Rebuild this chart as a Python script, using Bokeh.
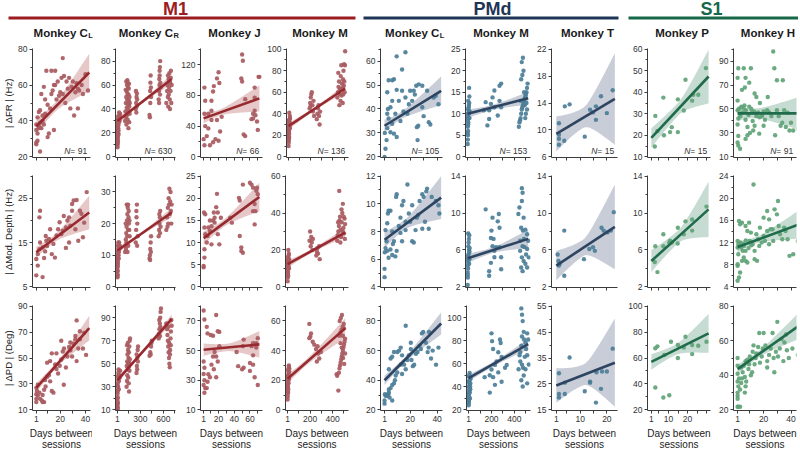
import numpy as np
from bokeh.plotting import figure
from bokeh.layouts import column, row
from bokeh.models import Range1d, FixedTicker, Label
from bokeh.core.properties import value
from bokeh.embed import file_html
from bokeh.resources import INLINE

FONT = "Liberation Sans"

# ---------------- labels ----------------
GROUPS = ["M1", "PMd", "S1"]
TITLES = [("Monkey C", "L"), ("Monkey C", "R"), ("Monkey J", ""), ("Monkey M", ""),
          ("Monkey C", "L"), ("Monkey M", ""), ("Monkey T", ""),
          ("Monkey P", ""), ("Monkey H", "")]
ROW_LABELS = ["| \u0394FR | (Hz)", "| \u0394Mod. Depth | (Hz)", "| \u0394PD | (Deg)"]
N_COUNTS = [91, 630, 66, 136, 105, 153, 15, 15, 91]

# labelled and unlabelled x ticks per column
X_MAJOR = [[1, 20, 40], [1, 300, 600], [1, 20, 40, 60], [1, 200, 400], [1, 20, 40], [1, 200, 400],
           [1, 10, 20], [1, 10, 20], [1, 20, 40]]
X_MINOR = [[10, 30], [150, 450, 750], [10, 30, 50, 70], [100, 300, 500], [10, 30], [100, 300, 500],
           [5, 15], [5, 15, 25, 30], [10, 30]]
X_LIMITS = [(-2, 44), (-25, 760), (-3, 76), (-18, 540), (-2, 44), (-18, 540), (-0.8, 24), (-1, 32), (-2, 44)]

Y_LIMITS = [
    [(20, 80), (0, 90), (0, 140), (0, 100), (20, 65), (0, 25), (6, 22), (10, 60), (10, 100)],
    [(5, 30), (0, 35), (0, 25), (0, 60), (4, 12), (2, 14), (2, 14), (2, 14), (4, 24)],
    [(10, 90), (10, 100), (10, 80), (0, 70), (20, 90), (20, 110), (15, 55), (20, 100), (20, 80)],
]
Y_TICKS = [
    [[20, 40, 60, 80], [0, 20, 40, 60, 80], [0, 40, 80, 120], [0, 20, 40, 60, 80, 100], [20, 30, 40, 50, 60],
     [0, 5, 10, 15, 20, 25], [6, 10, 14, 18, 22], [10, 20, 30, 40, 50, 60], [10, 30, 50, 70, 90]],
    [[5, 15, 25], [0, 10, 20, 30], [0, 5, 10, 15, 20, 25], [0, 20, 40, 60], [4, 6, 8, 10, 12],
     [2, 6, 10, 14], [2, 6, 10, 14], [2, 6, 10, 14], [4, 8, 12, 16, 20, 24]],
    [[10, 30, 50, 70, 90], [10, 30, 50, 70, 90], [10, 30, 50, 70], [0, 20, 40, 60], [20, 40, 60, 80],
     [20, 40, 60, 80, 100], [15, 25, 35, 45, 55], [20, 40, 60, 80, 100], [20, 40, 60, 80]],
]

# ---------------- data: row 1, |dFR| ----------------
M1_CL_FR_DAYS = [1, 1, 1, 1, 2, 2, 2, 3, 3, 3, 4, 4, 4, 5, 5, 6, 6, 7, 7, 8, 8, 9, 10, 10, 11, 12, 13, 13, 14, 15,
                 15, 16, 16, 17, 18, 19, 20, 21, 22, 22, 23, 24, 25, 26, 27, 28, 29, 30, 31, 32, 33, 34, 34, 35, 37,
                 38, 40, 42]
M1_CL_FR_VALS = [28, 27, 38, 35, 33, 42, 29, 45, 37, 36, 23, 46, 39, 36, 55, 43, 40, 59, 38, 44, 52, 68, 49, 31, 33,
                 47, 55, 68, 57, 60, 35, 60, 68, 52, 62, 54, 56, 64, 55, 75, 65, 50, 62, 58, 64, 47, 59, 62, 43, 56,
                 61, 58, 47, 57, 60, 55, 66, 57]
M1_CL_FR_FIT = [1, 43, 37, 67]
M1_CL_FR_BAND = [4, 2.5, 10.5, 15]

M1_CR_FR_DAYS = [1, 2, 3, 1, 4, 2, 6, 3, 8, 5, 10, 2, 12, 6, 15, 4, 18, 8, 20, 25, 10, 30, 35, 22, 14, 28, 16, 1, 5,
                 3, 1, 2, 4, 6,
                 100, 105, 110, 115, 120, 125, 130, 135, 140, 145, 150, 155, 160, 112, 118, 122, 128, 132, 138, 142,
                 148, 152, 158, 108, 126, 134, 144, 116, 154, 162,
                 240, 245, 250, 255, 248, 258, 242, 252,
                 420, 425, 430, 428, 432, 435, 440, 438,
                 540, 545, 550, 553, 556, 560, 548, 558, 565, 552, 562, 545,
                 640, 650, 655, 660, 665, 670, 675, 680, 685, 690, 695, 700, 705, 710, 672, 688, 698, 662]
M1_CR_FR_VALS = [8, 10, 12, 14, 15, 17, 18, 20, 21, 23, 24, 25, 26, 27, 28, 29, 30, 31, 32, 33, 34, 35, 36, 37, 22,
                 30, 19, 11, 13,
                 16, 19, 22, 25, 31,
                 30, 38, 45, 50, 55, 60, 64, 62, 58, 52, 47, 42, 36, 33, 27, 41, 48, 53, 44, 39, 57, 61, 50, 56, 35,
                 31, 24, 63, 29, 45,
                 40, 45, 50, 53, 37, 48, 55, 42,
                 35, 33, 45, 55, 62, 68, 50, 58,
                 48, 55, 60, 68, 75, 80, 65, 52, 58, 72, 62, 45,
                 45, 55, 60, 50, 42, 65, 58, 70, 48, 62, 55, 72, 45, 60, 52, 40, 66, 68]
M1_CR_FR_FIT = [1, 710, 30, 65]
M1_CR_FR_BAND = [3, 1.5, 4, 300]

M1_J_FR_DAYS = [2, 3, 2, 3, 1, 2, 5, 7, 11, 11, 13, 14, 18, 20, 16, 20, 22, 18, 7, 11, 24, 9, 13, 21, 50, 51, 49, 50,
                54, 52, 54, 66, 67, 64, 62, 69, 70, 66, 71, 72, 66, 64]
M1_J_FR_VALS = [90, 73, 56, 40, 23, 15, 27, 37, 60, 73, 85, 92, 102, 110, 23, 21, 33, 48, 56, 48, 52, 15, 19, 96,
                133, 125, 102, 98, 75, 29, 27, 90, 54, 50, 49, 46, 35, 77, 104, 104, 60, 56]
M1_J_FR_FIT = [1, 72, 50, 76]
M1_J_FR_BAND = [6.5, 4, 17, 20]

M1_M_FR_DAYS = [1, 2, 3, 1, 4, 2, 5, 6, 3, 8, 4, 10, 12, 7, 1, 2, 5, 3, 9, 11, 14, 6, 1, 13, 2, 4,
                190, 195, 200, 205, 210, 215, 220, 225, 230, 198,
                255, 260, 265, 270, 275, 280, 285,
                440, 445, 450, 455, 460, 465, 470, 475, 480, 485, 490, 495, 500, 505, 510, 458, 468, 478, 488, 498,
                448, 508, 462, 492, 502]
M1_M_FR_VALS = [10, 13, 16, 19, 21, 23, 25, 27, 29, 31, 33, 35, 38, 41, 24, 28, 30, 22, 26, 32, 36, 18, 15, 27, 34, 26,
                45, 50, 55, 58, 60, 48, 42, 52, 38, 47,
                35, 40, 45, 48, 38, 30, 42,
                55, 60, 65, 70, 58, 62, 75, 85, 68, 64, 72, 80, 86, 60, 98, 48, 52, 57, 50, 66, 78, 85, 63, 58, 70]
M1_M_FR_FIT = [1, 510, 28.5, 63.5]
M1_M_FR_BAND = [3, 1.5, 4, 250]

PMD_CL_FR_DAYS = [1, 1.7, 2.5, 1.2, 3, 4, 3.5, 3, 4, 6.7, 8, 10, 16.5, 14, 11.6, 14, 16.5, 9, 6.7, 8, 10, 5.4, 12.8,
                  18, 19, 21.5, 22.7, 24.5, 26.4, 25, 26, 29, 30, 29, 32.6, 33.8, 35, 37.5, 39, 41, 25.5, 15, 20,
                  23.5, 6.7, 5.4, 3, 10]
PMD_CL_FR_VALS = [20, 23.4, 27, 30, 32, 36, 40, 47, 52, 52, 52.4, 62, 63.7, 56.5, 43.4, 47.6, 44.8, 38, 33.8, 29.7,
                  28.3, 30.3, 35, 38, 42, 43.4, 47.6, 49.7, 50.3, 32.4, 33, 40.7, 37, 49.7, 47.6, 34.5, 33.5, 44.8,
                  45.5, 42, 27, 39, 47.6, 46, 43.4, 40.7, 38, 48]
PMD_CL_FR_FIT = [1, 43, 33, 47.6]
PMD_CL_FR_BAND = [2.5, 1.5, 6, 12]

PMD_M_FR_DAYS = [1, 2, 3, 1, 4, 2, 5, 6, 3, 8, 4, 10, 12, 7, 9, 11, 14, 5, 15, 13, 1, 2, 6, 16, 18,
                 185, 200, 214, 230, 274, 288, 259, 170, 185, 230, 274, 288, 140, 155,
                 440, 445, 450, 455, 460, 465, 470, 475, 480, 485, 490, 495, 500, 505, 510, 515, 460, 470, 480, 465,
                 475, 490, 500, 510, 455, 485, 495, 505]
PMD_M_FR_VALS = [3, 4, 5, 5.5, 6, 7, 7.5, 8, 8.5, 9, 9.5, 10, 10.5, 11, 11.5, 12, 12.5, 13, 14, 16, 10, 9, 11, 9, 10.5,
                 10.8, 12.3, 13.8, 15.4, 16.5, 17, 9.6, 7.3, 8.8, 11.5, 13, 11.5, 10.8, 12.7,
                 7, 8, 8.5, 9, 10, 11, 11.5, 12, 12.5, 13, 13.5, 14, 14.5, 15, 16, 17, 18, 19, 20, 22, 23, 12, 10,
                 11, 13, 15, 9, 12.5]
PMD_M_FR_FIT = [1, 520, 10, 13.6]
PMD_M_FR_BAND = [1, 0.6, 1.5, 200]

PMD_T_FR_DAYS = [2, 2, 2, 2, 4, 4.2, 6, 11.7, 13.7, 14.8, 15.9, 15.9, 17.8, 20, 22.2]
PMD_T_FR_VALS = [11.0, 9.3, 8.7, 7.8, 8.4, 13.5, 13.8, 9.0, 13.0, 12.6, 13.5, 11.5, 15.0, 12.5, 15.9]
PMD_T_FR_FIT = [1, 23, 9.4, 14.6]
PMD_T_FR_BAND = [2.6, 1.5, 6.8, 11]

S1_P_FR_DAYS = [3.1, 2.8, 4.2, 7.3, 7.6, 10.8, 11.7, 14.9, 14.9, 18.9, 18, 22.4, 23, 25.6, 29.6]
S1_P_FR_VALS = [29, 14.8, 22, 37.5, 20, 21.5, 23.8, 36.7, 21.5, 45.8, 31.5, 36.1, 38.8, 38.8, 51.2]
S1_P_FR_FIT = [1, 31, 18.8, 47.3]
S1_P_FR_BAND = [4.5, 3, 12.5, 15]

S1_H_FR_DAYS = [1, 1.5, 2.8, 1.5, 1, 1.5, 1, 1, 1, 1.5, 5.5, 6.8, 6.3, 4.2, 3.7, 4.7, 6.8, 8.2, 8.2, 6.8,
                10, 10.7, 9.5, 9.5, 11.6, 12, 13.4, 14.7, 16, 14.7, 13.4, 17.3, 18.6, 20, 21, 20, 23, 22.6, 24, 25.7,
                27, 27.8, 28.4, 29.7, 29.7, 31, 32.4, 34, 33.6, 35, 36.2, 37.5, 38.9, 40, 41.6, 45.6, 16.8, 12.4,
                2, 3, 5, 7, 9, 11, 13, 15, 17, 19, 3, 6]
S1_H_FR_VALS = [22, 19.5, 16.8, 27.5, 37, 42, 49, 57, 76, 84, 84, 76, 68, 66, 52, 47, 41, 35, 28, 25,
                30, 84, 72, 52, 47, 40, 36, 44, 47, 60, 63, 55, 44, 48, 41, 36, 60, 49, 47, 44,
                98, 84, 28, 74, 49, 44, 36, 74, 38.5, 49, 35, 47, 32, 38.5, 32, 33, 29.4, 32,
                50, 46, 51, 49, 45, 50, 48, 46, 43, 45, 44, 53]
S1_H_FR_FIT = [1, 45, 46.3, 46.3]
S1_H_FR_BAND = [6.5, 4, 13.5, 12]

# ---------------- data: row 2, |dMod. Depth| ----------------
M1_CL_MD_DAYS = [1, 6, 2.2, 1, 2.2, 3.5, 4, 3.5, 4, 6, 7.2, 8, 9, 8.5, 11, 12, 13.3, 15.8, 14.6, 17, 18.3, 19.5, 20.8,
                 22, 22.8, 24.5, 25.7, 27, 28, 29.4, 30.6, 29.4, 32, 33, 34.3, 35.6, 36.8, 38, 41, 39, 9.6, 24.5, 27]
M1_CL_MD_VALS = [7.6, 7.2, 9.8, 11.3, 12.4, 13.5, 15, 20.7, 22.2, 13.9, 11.5, 13, 15.4, 16.5, 15.8, 18, 12.4, 11.6,
                 14.7, 16.6, 18, 19.6, 16.9, 17.7, 21, 18.4, 20, 20.7, 18.8, 22.2, 24.5, 23.7, 18, 24.6, 15.4, 22.2,
                 21.5, 16.2, 26.4, 19.5, 14.2, 13.8, 15.0]
M1_CL_MD_FIT = [1, 43, 12.8, 21.8]
M1_CL_MD_BAND = [1.2, 0.8, 3.8, 15]

M1_CR_MD_DAYS = [1, 2, 3, 1, 4, 2, 5, 8, 3, 10, 6, 12, 15, 20, 25, 30, 18, 7, 1, 35, 22, 2, 4, 1, 3,
                 100, 105, 110, 115, 120, 125, 130, 135, 140, 145, 150, 155, 160, 112, 118, 128, 138, 148, 158, 108,
                 122, 132, 142,
                 240, 245, 250, 255, 260, 265, 248, 258,
                 420, 425, 430, 435, 440, 428, 438,
                 540, 545, 550, 555, 560, 565, 548, 558,
                 640, 650, 660, 670, 680, 690, 700, 705, 665, 685, 695, 675, 655, 710]
M1_CR_MD_VALS = [3, 4, 5, 6, 7, 8, 9, 10, 11, 12, 13, 14, 10, 11, 12, 13, 9, 7.5, 5, 12.5, 14, 6.5, 8.5, 9.5, 3.5,
                 11, 13, 15, 17, 19, 21, 23, 25, 26, 22, 20, 18, 16, 12, 14, 16, 18, 24, 21, 20, 26, 11, 13,
                 14, 18, 22, 26, 20, 16, 24, 13,
                 9, 10, 12, 14, 16, 8.5, 11,
                 16, 18, 20, 22, 24, 19, 23, 17,
                 18, 22, 25, 28, 31, 27, 24, 20, 20, 23, 30, 26, 19, 26]
M1_CR_MD_FIT = [1, 710, 11.5, 23.5]
M1_CR_MD_BAND = [1, 0.5, 1.5, 300]

M1_J_MD_DAYS = [1, 1, 2, 2, 3, 2, 3, 1.5, 5, 6, 9, 11, 13, 15, 14, 17, 18, 15, 19, 21, 11, 7, 9, 19, 23, 35, 37, 47,
                49, 51, 49, 47, 46, 51, 60, 62, 64, 66, 68, 70, 66, 67, 69, 64]
M1_J_MD_VALS = [4.4, 4.7, 6.6, 8.5, 11.9, 13.4, 16.4, 16.8, 10, 11.5, 12.6, 13.7, 15, 15.6, 16.8, 18, 21, 14.5, 11.9,
                9.6, 9.6, 13.4, 15, 16.8, 15.6, 15.6, 14.5, 11.5, 8.9, 7.7, 8.1, 19.5, 20.1, 23.1, 23.5, 23.1, 22.4,
                18.7, 21.7, 20.9, 14.1, 17.1, 22.4, 17.1]
M1_J_MD_FIT = [1, 72, 11, 20.3]
M1_J_MD_BAND = [1.5, 0.8, 3.2, 25]

M1_M_MD_DAYS = [1, 2, 3, 1, 4, 2, 5, 6, 3, 8, 4, 10, 12, 7, 1, 2, 5, 9, 11, 14, 6, 13,
                195, 200, 205, 210, 215, 220, 225,
                255, 260, 265, 270, 280, 285,
                440, 445, 450, 455, 460, 465, 470, 475, 480, 485, 490, 495, 500, 505, 510, 458, 468, 478, 488, 498,
                448, 508]
M1_M_MD_VALS = [3, 5, 7, 9, 10, 11, 12, 13, 14, 15, 16, 17, 18, 20, 12, 14, 8, 11, 13, 15, 6, 10,
                25, 30, 22, 27, 24, 20, 26,
                17, 19, 21, 18, 22, 15,
                25, 28, 30, 33, 36, 38, 31, 27, 35, 40, 45, 32, 29, 37, 34, 52, 24, 42, 30, 38, 35, 26]
M1_M_MD_FIT = [1, 510, 12.3, 29.4]
M1_M_MD_BAND = [2, 1, 2.5, 200]

PMD_CL_MD_DAYS = [1, 1, 1.2, 1.7, 2.5, 1.7, 3, 3.5, 4, 5.4, 3, 4, 5.4, 6.7, 7.2, 8, 9, 10, 10, 9.6, 11.6, 12.8, 14, 15,
                  16.6, 14, 12.8, 18, 19, 20, 21.5, 21.5, 22.7, 24, 25, 26, 27, 29, 30, 29, 31, 32, 32.6, 33.8, 36,
                  39, 41.7, 41, 6.7, 16.6]
PMD_CL_MD_VALS = [4.7, 5.3, 6.5, 6.8, 7.3, 8.1, 8.6, 9.3, 9.5, 9.5, 6.6, 6.1, 6.7, 6.3, 7.1, 7.3, 6.2, 6.6, 10.7, 10.5,
                  8.4, 9, 9.9, 10.2, 8.1, 7.3, 7.9, 11.4, 9.3, 8.7, 9.9, 7.3, 7.2, 8.1, 9, 9.2, 10.2, 10.7, 10.5, 8.2,
                  8.7, 10.9, 11.1, 8.2, 10.5, 10.2, 9.3, 9.9, 8, 8.7]
PMD_CL_MD_FIT = [1, 43, 7.4, 10.45]
PMD_CL_MD_BAND = [0.6, 0.35, 1.55, 15]

PMD_M_MD_DAYS = [1, 2, 3, 1, 4, 2, 5, 6, 3, 8, 4, 10, 12, 7, 9, 11, 14, 5, 15, 13, 16, 18,
                 155, 185, 185, 200, 200, 205, 214, 214, 230, 230, 259, 268, 274, 274, 288, 288, 244, 223,
                 466, 472, 466, 481, 460, 475, 496, 511, 451, 472, 490, 511, 451, 466, 481, 496, 460, 472, 511, 525,
                 520, 436, 445, 484, 502]
PMD_M_MD_VALS = [2.2, 3, 3.3, 3.6, 4, 4.3, 4.6, 4.8, 5, 5.2, 5.4, 5.6, 6, 6.4, 6.8, 7.2, 7.6, 7.8, 5, 4.5, 5.8, 6.2,
                 10.4, 3.7, 3.2, 4.6, 7.3, 8.1, 9.5, 6.4, 5.9, 5.2, 9.1, 9.9, 8.4, 6.3, 5.2, 3.9, 6.3, 7.2,
                 12.7, 12.2, 11.3, 9.5, 8.4, 8.1, 8.2, 7.7, 7, 6.4, 6.3, 6.1, 5.9, 5.2, 4.8, 4.5, 4.1, 3.7, 4.1, 5.2,
                 7, 9.9, 10.6, 7.2, 5.5]
PMD_M_MD_FIT = [1, 520, 5.1, 7.2]
PMD_M_MD_BAND = [0.5, 0.3, 1.0, 200]

PMD_T_MD_DAYS = [1.5, 1.8, 2, 2.3, 4, 4, 11.4, 13.4, 14.8, 15.5, 18, 18.8, 20.2, 21.5, 22.6]
PMD_T_MD_VALS = [5.5, 4.8, 4.3, 4.5, 8.1, 3.2, 5.0, 6.1, 6.3, 5.9, 8.4, 8.1, 7.9, 8.1, 10.1]
PMD_T_MD_FIT = [1, 23, 4.3, 8.5]
PMD_T_MD_BAND = [1.6, 0.9, 4.6, 11]

S1_P_MD_DAYS = [3.1, 2.8, 4.2, 7.3, 7.3, 10.4, 10.8, 11.7, 14.9, 14.8, 18, 18.9, 22.4, 22.4, 29.9]
S1_P_MD_VALS = [6.4, 4.7, 3.6, 7.7, 6.4, 6.8, 7.0, 6.8, 8.4, 6.7, 7.7, 9.1, 8.1, 9.3, 10.7]
S1_P_MD_FIT = [1, 31, 4.8, 10.4]
S1_P_MD_BAND = [1.2, 0.7, 3.0, 15]

S1_H_MD_DAYS = [1, 2, 2.8, 1, 1, 1.5, 1, 1.5, 1, 2, 2.8, 4.2, 3.7, 4.7, 5.5, 4.2, 5.5, 6.8, 8.1, 6.8,
                8.1, 6.8, 9.4, 10.7, 9.9, 12.6, 12, 13.4, 14.7, 16, 16.8, 17.3, 18.6, 20, 20, 21, 22.6, 24, 22.6, 25,
                27, 28, 29.7, 30.5, 31, 32, 33.6, 35, 36, 37.5, 38.9, 41.6, 45, 15.2, 13.4, 24, 26.5,
                3, 5, 7, 9, 11]
S1_H_MD_VALS = [5.1, 5.7, 6.6, 7.8, 8.1, 9.9, 11.1, 11.7, 12.3, 15.9, 15.3, 15.6, 11.1, 10.5, 11.4, 8.7, 9.3, 8.7,
                8.4, 10.5, 14.1, 15, 15.6, 13.8, 12.3, 22.5, 11.7, 10.5, 13.5, 12.6, 11.4, 14.7, 12, 16.5, 13.2, 12.3,
                17.7, 16.2, 14.1, 14.4, 12.3, 18, 17.1, 19.5, 15, 13.5, 12.6, 14.7, 14.1, 12.6, 9.6, 9.9, 12.3, 8.7,
                9, 11.7, 14.4, 12, 11.8, 12.4, 11, 11.5]
S1_H_MD_FIT = [1, 45, 11.2, 15.2]
S1_H_MD_BAND = [1.0, 0.6, 2.5, 14]

# ---------------- data: row 3, |dPD| ----------------
M1_CL_PD_DAYS = [1, 1, 1, 1.5, 1, 2.2, 2.2, 3.5, 4, 5.4, 6, 7.2, 6, 7.2, 8.4, 8, 9.6, 11, 12, 13.3, 14.6, 12, 13.3, 16,
                 17, 18.3, 19.6, 20.8, 22, 20.8, 22.8, 24.5, 25.7, 27, 28, 29.4, 30.6, 32, 32, 33, 34.3, 35.6, 35.6,
                 38, 39, 40.5, 33, 28, 23, 17, 9.6]
M1_CL_PD_VALS = [16, 18.5, 22, 24.5, 27, 29.4, 21, 23.3, 18.5, 17.3, 16, 16, 21.5, 25.5, 28, 33, 35.5, 36.7, 32, 24.5,
                 23.3, 47.6, 53.6, 45, 41.5, 38, 44, 48.8, 55, 63.3, 29.4, 42.7, 51.2, 58.5, 56, 51.2, 61, 64.5, 67,
                 47.6, 57.3, 64.5, 70.6, 57.3, 69.4, 52.4, 79, 62, 57.3, 53.6, 46.4]
M1_CL_PD_FIT = [1, 43, 27, 73]
M1_CL_PD_BAND = [3.6, 2, 9.5, 17]

M1_CR_PD_DAYS = [1, 2, 3, 1, 4, 2, 5, 8, 3, 10, 6, 12, 15, 20, 25, 30, 18, 1, 7, 35, 2, 1, 3, 2,
                 120, 125, 130, 135, 140, 145, 150, 155, 160, 165, 122, 128, 132, 138, 142, 148, 152, 158, 162, 126,
                 136, 146, 156,
                 250, 255, 260, 265, 270, 258, 268, 252,
                 420, 430, 440, 450, 435, 445,
                 540, 545, 550, 555, 560, 565, 570, 548, 558, 562,
                 640, 650, 655, 660, 665, 670, 675, 680, 685, 690, 695, 700, 705, 710, 668, 678, 688, 698]
M1_CR_PD_VALS = [10, 12, 15, 18, 21, 24, 27, 30, 33, 36, 39, 42, 45, 35, 40, 38, 28, 13, 16, 44, 11, 20, 26, 31,
                 30, 35, 40, 45, 50, 55, 60, 65, 70, 72, 48, 52, 58, 62, 38, 33, 26, 44, 54, 66, 68, 47, 51,
                 42, 48, 55, 62, 65, 45, 52, 58,
                 57, 60, 65, 70, 58, 68,
                 72, 76, 80, 85, 90, 95, 98, 88, 74, 82,
                 85, 80, 75, 70, 65, 60, 55, 50, 47, 62, 72, 78, 88, 83, 82, 68, 58, 66]
M1_CR_PD_FIT = [1, 710, 35.8, 88.7]
M1_CR_PD_BAND = [3, 1.5, 4, 300]

M1_J_PD_DAYS = [1, 2, 5, 6, 10, 13, 17, 19, 21, 1, 2, 1, 2, 1, 3, 2, 5, 6, 7, 9, 11, 13, 15, 17, 19, 21, 14, 17, 43,
                45, 50, 52, 51, 52, 60, 60, 62, 64, 64, 66, 68, 68, 70, 70, 64]
M1_J_PD_VALS = [77, 71, 66, 61.6, 60.5, 60, 74, 63, 62.6, 42.6, 38.4, 34.2, 30, 26.8, 24.7, 21.6, 24.7, 29, 34, 32,
                40.5, 46, 49, 46, 42.6, 53, 37.4, 32, 49, 39.5, 37.4, 38.4, 53, 57.4, 36.3, 41.6, 53, 55, 40.5, 32,
                55, 52, 26.8, 58.4, 46.8]
M1_J_PD_FIT = [1, 72, 50.6, 54.2]
M1_J_PD_BAND = [4.2, 2.5, 9, 30]

M1_M_PD_DAYS = [1, 2, 3, 1, 4, 2, 5, 6, 3, 8, 4, 10, 12, 7, 1, 2, 5, 9, 11, 14, 6, 13, 16,
                193, 208, 202, 223, 193, 237, 252, 266, 272, 260, 281, 296,
                435, 440, 450, 455, 460, 465, 470, 475, 480, 485, 490, 495, 500, 505, 510, 458, 468, 478, 488, 498,
                462, 472, 482, 492, 502, 470, 490, 500, 480, 510]
M1_M_PD_VALS = [7, 9, 11, 13, 15, 17, 19, 21, 23, 25, 27, 29, 30, 20, 16, 22, 12, 18, 24, 26, 14, 21, 28,
                58, 51.6, 49.5, 46, 48.4, 44, 41, 43, 38, 32.6, 34.7, 39,
                24, 23, 13, 25, 28, 30, 32, 34, 36, 38, 40, 42, 44, 46, 48, 50, 52, 54, 56, 58, 60, 62, 64, 35, 31,
                45, 50, 55, 42, 38]
M1_M_PD_FIT = [1, 510, 21, 55]
M1_M_PD_BAND = [3.2, 2, 6.8, 150]

PMD_CL_PD_DAYS = [1, 1, 1.7, 1.3, 3, 3.7, 4.2, 4.7, 4.2, 5.5, 6.7, 6.7, 8, 8.7, 9.3, 10.5, 4.2, 5.5, 6.7, 8, 10.5,
                  11.8, 13, 16.7, 15.5, 14, 16.7, 18, 19, 20.5, 20.5, 21, 22, 23, 24.3, 25.5, 27, 28, 28.7, 29.7,
                  31.7, 33, 33.7, 35.5, 36.7, 39.2, 41, 34, 13, 14]
PMD_CL_PD_VALS = [24.2, 26.3, 29.5, 30.5, 29.5, 30.5, 31.6, 28.4, 33.7, 34.7, 36.8, 26.3, 37.9, 40, 43.2, 45.3, 47.4,
                  54.7, 55.8, 59, 59, 60, 62, 76.8, 50.5, 44.2, 47.4, 53.7, 56.8, 61, 65.3, 53.7, 49.5, 50.5, 57.9,
                  59, 63.2, 61, 71.6, 72.6, 65.3, 59, 62, 54.7, 60, 50.5, 62, 72.6, 50.5, 56.8]
PMD_CL_PD_FIT = [1, 43, 40, 78.3]
PMD_CL_PD_BAND = [3.2, 1.8, 7.5, 15]

PMD_M_PD_DAYS = [1, 2, 3, 1, 4, 2, 5, 6, 3, 8, 4, 10, 12, 7, 9, 11, 14, 5, 15, 13, 16, 18, 1, 2,
                 185, 200, 200, 205, 214, 230, 244, 259, 274, 280, 288, 288, 230, 185, 214, 259, 318, 333, 140,
                 460, 466, 472, 481, 466, 460, 496, 511, 520, 451, 466, 475, 481, 460, 472, 496, 511, 502, 451, 490,
                 525, 511, 436, 445, 484]
PMD_M_PD_VALS = [24, 26, 28, 30, 32, 34, 36, 38, 40, 42, 44, 46, 48, 50, 52, 35, 40, 45, 38, 30, 43, 47, 27, 49,
                 50, 55, 86.4, 79.6, 72.8, 59, 62, 70, 81, 78, 66, 44.4, 41.7, 35, 48.4, 52.5, 56.6, 59, 48.4,
                 108, 102.6, 97, 87.7, 83.7, 75.6, 78.3, 86.4, 81, 62, 59.3, 56.6, 49.8, 45.7, 40.3, 55.2, 67.4,
                 72.8, 70, 66, 59.3, 43, 55.2, 67.4, 81]
PMD_M_PD_FIT = [1, 520, 47.5, 77]
PMD_M_PD_BAND = [3, 2, 4.5, 200]

PMD_T_PD_DAYS = [2, 2, 2, 4.2, 4.2, 6, 11.7, 13.7, 13.7, 15.9, 16.1, 17.8, 18.2, 20, 22.2]
PMD_T_PD_VALS = [29.1, 21.1, 19.8, 21.1, 25.5, 35.2, 22.2, 25.9, 25.5, 17.8, 29.5, 23.1, 29.8, 29.8, 38.6]
PMD_T_PD_FIT = [1, 23, 24.4, 33.2]
PMD_T_PD_BAND = [6.7, 4, 17, 11]

S1_P_PD_DAYS = [3.1, 4.2, 3.1, 7.3, 10.4, 7.8, 11.3, 14.9, 14.9, 18.9, 18, 22.4, 22.4, 25.6, 29.9]
S1_P_PD_VALS = [67.5, 69, 37.3, 29.6, 31.3, 62.4, 72.5, 70, 60, 76.4, 68, 63, 70, 69.4, 72.5]
S1_P_PD_FIT = [1, 31, 57, 79]
S1_P_PD_BAND = [6, 4, 15, 13]

S1_H_PD_DAYS = [1, 1.5, 2.8, 1, 1, 1, 1.5, 1, 2, 1, 1, 1, 2.8, 3.6, 4.2, 4.7, 3.6, 5.5, 6.3, 6.8,
                7.3, 6.3, 6.8, 8.1, 8.9, 9.4, 9.9, 10.7, 11.6, 12, 12.6, 13.4, 14.2, 14.7, 16, 16.8, 17.3, 18.6,
                19.4, 20, 21.3, 22.6, 24, 25.2, 26.5, 27.3, 27.8, 29, 30, 30.5, 31.8, 33, 34.4, 35.2, 36.3, 37,
                38.4, 41, 45, 22.6]
S1_H_PD_VALS = [21.8, 21.8, 21.8, 26.4, 28.2, 30, 33.6, 36.4, 38.2, 40.9, 45.5, 50, 31.8, 35.5, 38.2, 41.8, 44.5,
                45.5, 30, 33.6, 36.4, 39, 48.2, 49, 43.6, 46.4, 50.9, 40, 41.8, 53.6, 57.3, 46.4, 50, 52.7, 56.4,
                64.5, 47.3, 50.9, 55.5, 64.5, 57.3, 48.2, 51.8, 55.5, 64.5, 50, 41.8, 53.6, 70.9, 50.9, 55.5, 60.9,
                48.2, 59, 63.6, 54.5, 50, 55.5, 51.8, 44.5]
S1_H_PD_FIT = [1, 45, 43.6, 68.2]
S1_H_PD_BAND = [2.7, 1.8, 7.5, 15]

PANELS = [
    [(M1_CL_FR_DAYS, M1_CL_FR_VALS, M1_CL_FR_FIT, M1_CL_FR_BAND),
     (M1_CR_FR_DAYS, M1_CR_FR_VALS, M1_CR_FR_FIT, M1_CR_FR_BAND),
     (M1_J_FR_DAYS, M1_J_FR_VALS, M1_J_FR_FIT, M1_J_FR_BAND),
     (M1_M_FR_DAYS, M1_M_FR_VALS, M1_M_FR_FIT, M1_M_FR_BAND),
     (PMD_CL_FR_DAYS, PMD_CL_FR_VALS, PMD_CL_FR_FIT, PMD_CL_FR_BAND),
     (PMD_M_FR_DAYS, PMD_M_FR_VALS, PMD_M_FR_FIT, PMD_M_FR_BAND),
     (PMD_T_FR_DAYS, PMD_T_FR_VALS, PMD_T_FR_FIT, PMD_T_FR_BAND),
     (S1_P_FR_DAYS, S1_P_FR_VALS, S1_P_FR_FIT, S1_P_FR_BAND),
     (S1_H_FR_DAYS, S1_H_FR_VALS, S1_H_FR_FIT, S1_H_FR_BAND)],
    [(M1_CL_MD_DAYS, M1_CL_MD_VALS, M1_CL_MD_FIT, M1_CL_MD_BAND),
     (M1_CR_MD_DAYS, M1_CR_MD_VALS, M1_CR_MD_FIT, M1_CR_MD_BAND),
     (M1_J_MD_DAYS, M1_J_MD_VALS, M1_J_MD_FIT, M1_J_MD_BAND),
     (M1_M_MD_DAYS, M1_M_MD_VALS, M1_M_MD_FIT, M1_M_MD_BAND),
     (PMD_CL_MD_DAYS, PMD_CL_MD_VALS, PMD_CL_MD_FIT, PMD_CL_MD_BAND),
     (PMD_M_MD_DAYS, PMD_M_MD_VALS, PMD_M_MD_FIT, PMD_M_MD_BAND),
     (PMD_T_MD_DAYS, PMD_T_MD_VALS, PMD_T_MD_FIT, PMD_T_MD_BAND),
     (S1_P_MD_DAYS, S1_P_MD_VALS, S1_P_MD_FIT, S1_P_MD_BAND),
     (S1_H_MD_DAYS, S1_H_MD_VALS, S1_H_MD_FIT, S1_H_MD_BAND)],
    [(M1_CL_PD_DAYS, M1_CL_PD_VALS, M1_CL_PD_FIT, M1_CL_PD_BAND),
     (M1_CR_PD_DAYS, M1_CR_PD_VALS, M1_CR_PD_FIT, M1_CR_PD_BAND),
     (M1_J_PD_DAYS, M1_J_PD_VALS, M1_J_PD_FIT, M1_J_PD_BAND),
     (M1_M_PD_DAYS, M1_M_PD_VALS, M1_M_PD_FIT, M1_M_PD_BAND),
     (PMD_CL_PD_DAYS, PMD_CL_PD_VALS, PMD_CL_PD_FIT, PMD_CL_PD_BAND),
     (PMD_M_PD_DAYS, PMD_M_PD_VALS, PMD_M_PD_FIT, PMD_M_PD_BAND),
     (PMD_T_PD_DAYS, PMD_T_PD_VALS, PMD_T_PD_FIT, PMD_T_PD_BAND),
     (S1_P_PD_DAYS, S1_P_PD_VALS, S1_P_PD_FIT, S1_P_PD_BAND),
     (S1_H_PD_DAYS, S1_H_PD_VALS, S1_H_PD_FIT, S1_H_PD_BAND)],
]

# ---------------- styling / layout ----------------
COL_GROUP = [0, 0, 0, 0, 1, 1, 1, 2, 2]
HEAD_COLOR = ["#9b1c21", "#1f3557", "#17684a"]
PT_COLOR = ["#a85a5f", "#4c7e98", "#5fa377"]
LINE_COLOR = ["#972a2f", "#2e4562", "#1f6b4b"]
BAND_COLOR = ["#e6c8c9", "#c8cdd7", "#c6dcd2"]
AX_COLOR = "#3c3c3c"

TOTAL_W = 798
AXIS_X = [29, 115, 200, 285, 380, 465, 551, 647, 733]
FRAME_END = [90, 175, 262, 348, 442, 530, 617, 710, 796]
STARTS = [0] + [e + 2 for e in FRAME_END[:-1]]
WIDTHS = [(STARTS[i + 1] if i < 8 else TOTAL_W) - STARTS[i] for i in range(9)]
LEFTS = [AXIS_X[i] - STARTS[i] for i in range(9)]
FRAME_W = [FRAME_END[i] - AXIS_X[i] for i in range(9)]
RIGHTS = [WIDTHS[i] - LEFTS[i] - FRAME_W[i] for i in range(9)]

HEAD_H = 42
ROW_TOP = [6, 8, 8]
ROW_FRAME = [109, 112, 107]
ROW_BOTTOM = [10, 10, 41]


def band_curve(fit, band):
    x0, x1, y0, y1 = fit
    hs, hm, he, xc = band
    xs = np.linspace(x0, x1, 80)
    ys = y0 + (y1 - y0) * (xs - x0) / (x1 - x0)
    left = xs < xc
    t = np.where(left, (xc - xs) / (xc - x0), (xs - xc) / (x1 - xc))
    edge = np.where(left, hs, he)
    hw = np.sqrt(hm ** 2 + (edge ** 2 - hm ** 2) * t ** 2)
    return xs, ys - hw, ys + hw


def char_w(s, size):
    w = {" ": 0.278, "=": 0.584, "N": 0.722}
    return sum(w.get(c, 0.556) for c in s) * size


def minor_from(major, lim):
    step = major[1] - major[0]
    m = [a + step / 2 for a in major[:-1]]
    if major[-1] + step / 2 <= lim[1] + 1e-9:
        m.append(major[-1] + step / 2)
    if major[0] - step / 2 >= lim[0] - 1e-9:
        m.insert(0, major[0] - step / 2)
    return m


def style_axis(ax):
    ax.axis_line_color = AX_COLOR
    ax.axis_line_width = 1
    ax.major_tick_line_color = AX_COLOR
    ax.minor_tick_line_color = AX_COLOR
    ax.major_tick_out = 3
    ax.major_tick_in = 0
    ax.minor_tick_out = 2
    ax.minor_tick_in = 0
    ax.major_label_text_font = FONT
    ax.major_label_text_font_size = "8.5px"
    ax.major_label_text_color = "#333333"
    ax.major_label_standoff = 2
    ax.axis_label_text_font = FONT
    ax.axis_label_text_font_style = "normal"
    ax.axis_label_text_color = "#222222"
    ax.axis_label_standoff = 3


def make_panel(r, c):
    days, vals, fit, band = PANELS[r][c]
    g = COL_GROUP[c]
    xr = X_LIMITS[c]
    yr = Y_LIMITS[r][c]
    ypad = (yr[1] - yr[0]) * 0.006
    p = figure(width=WIDTHS[c], height=ROW_TOP[r] + ROW_FRAME[r] + ROW_BOTTOM[r],
               x_range=Range1d(xr[0], xr[1]), y_range=Range1d(yr[0] - ypad, yr[1] + ypad),
               output_backend="svg", toolbar_location=None,
               min_border_left=LEFTS[c], min_border_right=RIGHTS[c],
               min_border_top=ROW_TOP[r], min_border_bottom=ROW_BOTTOM[r])
    p.outline_line_color = None
    p.grid.visible = False
    p.background_fill_color = "white"
    p.border_fill_color = "white"

    bx, blo, bhi = band_curve(fit, band)
    p.varea(x=bx, y1=blo, y2=bhi, fill_color=BAND_COLOR[g], fill_alpha=1.0)
    pairs = list(zip(days, vals))
    p.scatter([a for a, b in pairs], [b for a, b in pairs], size=4.4,
              fill_color=PT_COLOR[g], line_color=None, fill_alpha=0.92)
    p.line([fit[0], fit[1]], [fit[2], fit[3]], line_width=2.6, line_color=LINE_COLOR[g])

    xa = p.xaxis[0]
    ya = p.yaxis[0]
    style_axis(xa)
    style_axis(ya)
    majors = Y_TICKS[r][c]
    ya.ticker = FixedTicker(ticks=majors, minor_ticks=minor_from(majors, yr))
    xa.minor_tick_out = 3
    if r < 2:
        # unlabelled tick marks only
        xa.ticker = FixedTicker(ticks=[], minor_ticks=sorted(X_MAJOR[c] + X_MINOR[c]))
    else:
        xa.ticker = FixedTicker(ticks=X_MAJOR[c], minor_ticks=X_MINOR[c])
        xa.axis_label = "Days between\nsessions"
        xa.axis_label_text_font_size = "10px"
        xa.axis_label_standoff = 3
        xa.axis_label_text_line_height = 1.05
    if c == 0:
        ya.axis_label = ROW_LABELS[r]
        ya.axis_label_text_font_size = "9.5px"
        ya.axis_label_standoff = 1

    if r == 0:
        rest = " = %d" % N_COUNTS[c]
        p.add_layout(Label(x=xr[1], y=yr[0], x_offset=-1, y_offset=1, text=rest,
                           text_align="right", text_baseline="bottom", text_font=FONT,
                           text_font_size="8.5px", text_color="#333333"))
        p.add_layout(Label(x=xr[1], y=yr[0], x_offset=-1 - char_w(rest, 8.5), y_offset=1, text="N",
                           text_align="right", text_baseline="bottom", text_font=FONT,
                           text_font_size="8.5px", text_font_style="italic", text_color="#333333"))
    return p


# ---------------- header ----------------
hp = figure(width=TOTAL_W, height=HEAD_H, x_range=Range1d(0, TOTAL_W), y_range=Range1d(HEAD_H, 0),
            x_axis_type=None, y_axis_type=None, output_backend="svg", toolbar_location=None,
            min_border=0)
hp.outline_line_color = None
hp.background_fill_color = "white"
hp.border_fill_color = "white"

SPANS = [(8, 355), (363, 618), (628, TOTAL_W)]
GROUP_X = [175, 492, 711]
hp.segment(x0=[s[0] for s in SPANS], x1=[s[1] for s in SPANS], y0=[17.5] * 3, y1=[17.5] * 3,
           line_width=3, line_color=HEAD_COLOR)
hp.text(x=GROUP_X, y=[8.5] * 3, text=GROUPS, text_color=HEAD_COLOR,
        text_font=value(FONT), text_font_size="18px", text_font_style="bold",
        text_align="center", text_baseline="middle")

BOLD_W = {"M": .833, "o": .611, "n": .611, "k": .556, "e": .556, "y": .556, " ": .278, "C": .722,
          "J": .556, "T": .611, "P": .667, "H": .722, "L": .611, "R": .722}
TSIZE = 11.5
SSIZE = 7.5
for i, (main, sub) in enumerate(TITLES):
    wm = sum(BOLD_W.get(ch, .6) for ch in main) * TSIZE
    ws = sum(BOLD_W.get(ch, .6) for ch in sub) * SSIZE
    center = (AXIS_X[i] + FRAME_END[i]) / 2 + 3
    x0 = center - (wm + ws) / 2
    hp.text(x=[x0], y=[32], text=[main], text_color="#1a1a1a", text_font=value(FONT),
            text_font_size="%gpx" % TSIZE, text_font_style="bold", text_align="left", text_baseline="middle")
    if sub:
        hp.text(x=[x0 + wm + 0.5], y=[35], text=[sub], text_color="#1a1a1a", text_font=value(FONT),
                text_font_size="%gpx" % SSIZE, text_font_style="bold", text_align="left",
                text_baseline="middle")

rows = [row(*[make_panel(r, c) for c in range(9)], spacing=0) for r in range(3)]
layout = column(hp, *rows, spacing=0)

open("out.html", "w").write(file_html(layout, INLINE))
